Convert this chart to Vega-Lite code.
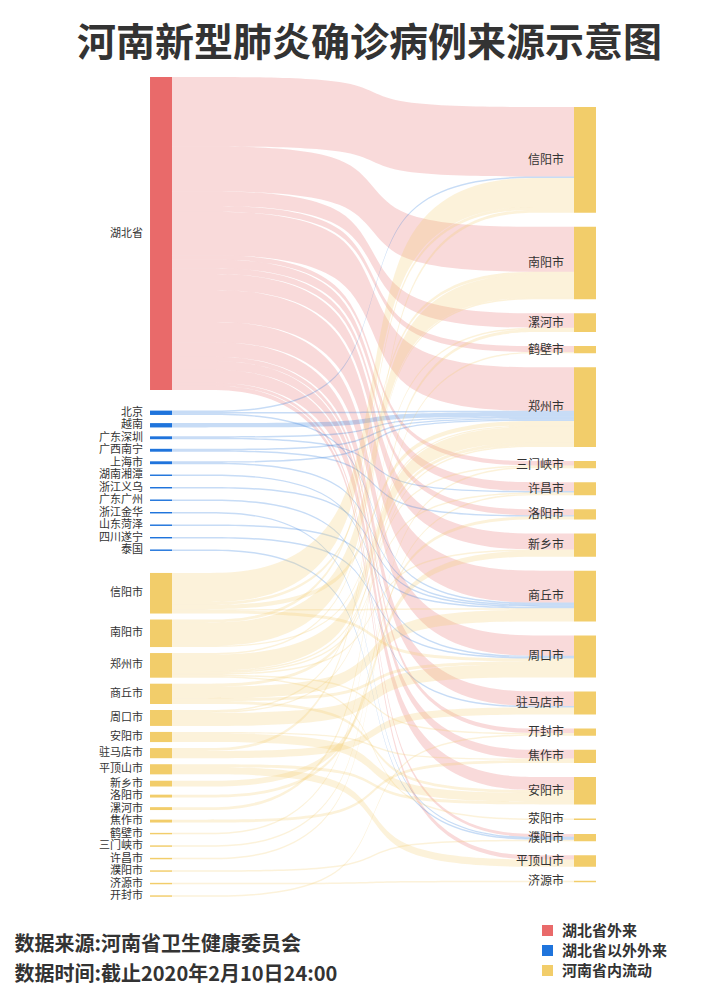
{
  "$schema": "https://vega.github.io/schema/vega-lite/v6.json",
  "width": 711,
  "height": 1000,
  "padding": 0,
  "background": "white",
  "config": {"view": {"stroke": null}, "font": "Noto Sans CJK SC"},
  "title": {
    "text": "河南新型肺炎确诊病例来源示意图",
    "font": "Noto Sans CJK SC",
    "fontSize": 39,
    "fontWeight": "bold",
    "color": "#333333",
    "anchor": "middle",
    "dx": 14,
    "offset": -64
  },
  "data": {"values": [
      {"s": "湖北省", "t": "信阳市", "c": "湖北省外来", "v": 48},
      {"s": "湖北省", "t": "南阳市", "c": "湖北省外来", "v": 31},
      {"s": "湖北省", "t": "漯河市", "c": "湖北省外来", "v": 10},
      {"s": "湖北省", "t": "鹤壁市", "c": "湖北省外来", "v": 4},
      {"s": "湖北省", "t": "郑州市", "c": "湖北省外来", "v": 30},
      {"s": "湖北省", "t": "三门峡市", "c": "湖北省外来", "v": 3},
      {"s": "湖北省", "t": "许昌市", "c": "湖北省外来", "v": 6},
      {"s": "湖北省", "t": "洛阳市", "c": "湖北省外来", "v": 4},
      {"s": "湖北省", "t": "新乡市", "c": "湖北省外来", "v": 11},
      {"s": "湖北省", "t": "商丘市", "c": "湖北省外来", "v": 22},
      {"s": "湖北省", "t": "周口市", "c": "湖北省外来", "v": 14},
      {"s": "湖北省", "t": "驻马店市", "c": "湖北省外来", "v": 10},
      {"s": "湖北省", "t": "开封市", "c": "湖北省外来", "v": 3},
      {"s": "湖北省", "t": "焦作市", "c": "湖北省外来", "v": 6},
      {"s": "湖北省", "t": "安阳市", "c": "湖北省外来", "v": 9},
      {"s": "湖北省", "t": "濮阳市", "c": "湖北省外来", "v": 2},
      {"s": "湖北省", "t": "平顶山市", "c": "湖北省外来", "v": 3},
      {"s": "北京", "t": "信阳市", "c": "湖北省以外外来", "v": 1},
      {"s": "北京", "t": "郑州市", "c": "湖北省以外外来", "v": 1},
      {"s": "北京", "t": "商丘市", "c": "湖北省以外外来", "v": 1},
      {"s": "越南", "t": "郑州市", "c": "湖北省以外外来", "v": 3},
      {"s": "广东深圳", "t": "郑州市", "c": "湖北省以外外来", "v": 1},
      {"s": "广东深圳", "t": "许昌市", "c": "湖北省以外外来", "v": 1},
      {"s": "广西南宁", "t": "郑州市", "c": "湖北省以外外来", "v": 1},
      {"s": "广西南宁", "t": "洛阳市", "c": "湖北省以外外来", "v": 1},
      {"s": "上海市", "t": "郑州市", "c": "湖北省以外外来", "v": 1},
      {"s": "上海市", "t": "商丘市", "c": "湖北省以外外来", "v": 1},
      {"s": "湖南湘潭", "t": "周口市", "c": "湖北省以外外来", "v": 1},
      {"s": "浙江义乌", "t": "商丘市", "c": "湖北省以外外来", "v": 1},
      {"s": "广东广州", "t": "驻马店市", "c": "湖北省以外外来", "v": 1},
      {"s": "浙江金华", "t": "濮阳市", "c": "湖北省以外外来", "v": 1},
      {"s": "山东菏泽", "t": "商丘市", "c": "湖北省以外外来", "v": 1},
      {"s": "四川遂宁", "t": "周口市", "c": "湖北省以外外来", "v": 1},
      {"s": "泰国", "t": "濮阳市", "c": "湖北省以外外来", "v": 1},
      {"s": "信阳市", "t": "信阳市", "c": "河南省内流动", "v": 20},
      {"s": "信阳市", "t": "南阳市", "c": "河南省内流动", "v": 2},
      {"s": "信阳市", "t": "郑州市", "c": "河南省内流动", "v": 3},
      {"s": "信阳市", "t": "商丘市", "c": "河南省内流动", "v": 1},
      {"s": "信阳市", "t": "周口市", "c": "河南省内流动", "v": 2},
      {"s": "南阳市", "t": "信阳市", "c": "河南省内流动", "v": 2},
      {"s": "南阳市", "t": "南阳市", "c": "河南省内流动", "v": 16},
      {"s": "南阳市", "t": "郑州市", "c": "河南省内流动", "v": 1},
      {"s": "郑州市", "t": "南阳市", "c": "河南省内流动", "v": 1},
      {"s": "郑州市", "t": "郑州市", "c": "河南省内流动", "v": 11},
      {"s": "郑州市", "t": "三门峡市", "c": "河南省内流动", "v": 1},
      {"s": "郑州市", "t": "许昌市", "c": "河南省内流动", "v": 1},
      {"s": "郑州市", "t": "新乡市", "c": "河南省内流动", "v": 1},
      {"s": "郑州市", "t": "开封市", "c": "河南省内流动", "v": 1},
      {"s": "郑州市", "t": "荥阳市", "c": "河南省内流动", "v": 1},
      {"s": "商丘市", "t": "郑州市", "c": "河南省内流动", "v": 2},
      {"s": "商丘市", "t": "商丘市", "c": "河南省内流动", "v": 8},
      {"s": "商丘市", "t": "周口市", "c": "河南省内流动", "v": 2},
      {"s": "商丘市", "t": "安阳市", "c": "河南省内流动", "v": 2},
      {"s": "周口市", "t": "漯河市", "c": "河南省内流动", "v": 1},
      {"s": "周口市", "t": "郑州市", "c": "河南省内流动", "v": 1},
      {"s": "周口市", "t": "周口市", "c": "河南省内流动", "v": 9},
      {"s": "安阳市", "t": "焦作市", "c": "河南省内流动", "v": 1},
      {"s": "安阳市", "t": "安阳市", "c": "河南省内流动", "v": 6},
      {"s": "驻马店市", "t": "信阳市", "c": "河南省内流动", "v": 2},
      {"s": "驻马店市", "t": "驻马店市", "c": "河南省内流动", "v": 5},
      {"s": "平顶山市", "t": "安阳市", "c": "河南省内流动", "v": 2},
      {"s": "平顶山市", "t": "平顶山市", "c": "河南省内流动", "v": 5},
      {"s": "新乡市", "t": "新乡市", "c": "河南省内流动", "v": 4},
      {"s": "洛阳市", "t": "洛阳市", "c": "河南省内流动", "v": 2},
      {"s": "漯河市", "t": "漯河市", "c": "河南省内流动", "v": 2},
      {"s": "焦作市", "t": "焦作市", "c": "河南省内流动", "v": 2},
      {"s": "鹤壁市", "t": "鹤壁市", "c": "河南省内流动", "v": 1},
      {"s": "三门峡市", "t": "三门峡市", "c": "河南省内流动", "v": 1},
      {"s": "许昌市", "t": "许昌市", "c": "河南省内流动", "v": 1},
      {"s": "濮阳市", "t": "濮阳市", "c": "河南省内流动", "v": 1},
      {"s": "济源市", "t": "济源市", "c": "河南省内流动", "v": 1},
      {"s": "开封市", "t": "开封市", "c": "河南省内流动", "v": 1}
  ]},
  "transform": [
    {"calculate": "indexof(['湖北省','北京','越南','广东深圳','广西南宁','上海市','湖南湘潭','浙江义乌','广东广州','浙江金华','山东菏泽','四川遂宁','泰国','信阳市','南阳市','郑州市','商丘市','周口市','安阳市','驻马店市','平顶山市','新乡市','洛阳市','漯河市','焦作市','鹤壁市','三门峡市','许昌市','濮阳市','济源市','开封市'], datum.s)", "as": "si"},
    {"calculate": "indexof(['信阳市','南阳市','漯河市','鹤壁市','郑州市','三门峡市','许昌市','洛阳市','新乡市','商丘市','周口市','驻马店市','开封市','焦作市','安阳市','荥阳市','濮阳市','平顶山市','济源市'], datum.t)", "as": "ti"},
    {"joinaggregate": [{"op": "sum", "field": "v", "as": "hs"}], "groupby": ["s"]},
    {"joinaggregate": [{"op": "min", "field": "si", "as": "cmin"}], "groupby": ["c"]},
    {"window": [{"op": "row_number", "as": "rs"}], "groupby": ["s"], "sort": [{"field": "ti"}]},
    {"window": [{"op": "row_number", "as": "rt"}], "groupby": ["t"], "sort": [{"field": "si"}]},
    {"window": [{"op": "sum", "field": "v", "as": "csi"}], "sort": [{"field": "si"}, {"field": "ti"}], "frame": [null, 0]},
    {"calculate": "(8.62 - datum.hs > 4.14) ? (8.62 - datum.hs) : 4.14", "as": "gs"},
    {"calculate": "datum.rs == 1 ? (datum.gs + ((datum.si == datum.cmin && datum.si > 0) ? 9.31 : 0)) : 0", "as": "xs"},
    {"window": [{"op": "sum", "field": "xs", "as": "cxs"}], "sort": [{"field": "si"}, {"field": "ti"}], "frame": [null, 0]},
    {"calculate": "51.06 + datum.csi - datum.v + datum.cxs - datum.gs / 2", "as": "sy"},
    {"window": [{"op": "sum", "field": "v", "as": "cti"}], "sort": [{"field": "ti"}, {"field": "si"}], "frame": [null, 0]},
    {"calculate": "datum.rt == 1 ? 9.66 : 0", "as": "xt"},
    {"window": [{"op": "sum", "field": "xt", "as": "cxt"}], "sort": [{"field": "ti"}, {"field": "si"}], "frame": [null, 0]},
    {"calculate": "69 + datum.cti - datum.v + datum.cxt - 4.83", "as": "ty"},
    {"calculate": "datum.sy + datum.v", "as": "sy2"},
    {"calculate": "datum.ty + datum.v", "as": "ty2"}
  ],
  "layer": [
    {
      "transform": [
        {"calculate": "datum.sy", "as": "p0"},
        {"calculate": "datum.sy", "as": "p1"},
        {"calculate": "datum.ty", "as": "p2"},
        {"calculate": "datum.ty", "as": "p3"},
        {"fold": ["p0", "p1", "p2", "p3"], "as": ["key", "py"]},
        {"calculate": "datum.key == 'p0' ? 0 : (datum.key == 'p1' ? 0.499 : (datum.key == 'p2' ? 0.501 : 1))", "as": "px"},
        {"calculate": "datum.py + datum.v", "as": "py2"},
        {"calculate": "datum.s + '-' + datum.t", "as": "id"}
      ],
      "mark": {"type": "area", "interpolate": "basis", "opacity": 0.25},
      "encoding": {
        "x": {
          "field": "px", "type": "quantitative",
          "scale": {"domain": [-0.4279, 1.3408], "nice": false, "zero": false},
          "axis": {
            "orient": "bottom",
            "title": ["数据来源:河南省卫生健康委员会", "数据时间:截止2020年2月10日24:00"],
            "labels": false, "ticks": false, "domain": false, "grid": false,
            "titleX": 14, "titleY": -66, "titleAlign": "left",
            "titleBaseline": "top", "titleFont": "Noto Sans CJK SC", "titleFontSize": 20,
            "titleFontWeight": "bold", "titleColor": "#333333", "titleLineHeight": 30
          }
        },
        "y": {"field": "py", "type": "quantitative", "stack": null, "scale": {"domain": [0, 690], "reverse": true, "nice": false, "zero": false}, "axis": null},
        "y2": {"field": "py2"},
        "detail": {"field": "id", "type": "nominal"},
        "color": {
          "field": "c", "type": "nominal",
          "scale": {"domain": ["湖北省外来", "湖北省以外外来", "河南省内流动"], "range": ["#e96a6a", "#1f74dc", "#f2cd6a"]},
          "legend": {
            "orient": "none", "legendX": 540, "legendY": 923, "title": null,
            "symbolType": "square", "symbolSize": 121, "symbolOpacity": 1, "symbolStrokeWidth": 0,
            "labelFont": "Noto Sans CJK SC", "labelFontSize": 15, "labelFontWeight": "bold",
            "labelColor": "#333333", "labelOffset": 7, "rowPadding": 4
          }
        }
      }
    },
    {
      "transform": [
        {"aggregate": [{"op": "min", "field": "sy", "as": "y0"}, {"op": "max", "field": "sy2", "as": "y1"}], "groupby": ["s", "c"]},
        {"calculate": "-0.0547", "as": "xa"},
        {"calculate": "0", "as": "xb"}
      ],
      "mark": {"type": "rect"},
      "encoding": {
        "x": {"field": "xa", "type": "quantitative"},
        "x2": {"field": "xb"},
        "y": {"field": "y0", "type": "quantitative", "axis": null},
        "y2": {"field": "y1"},
        "color": {"field": "c", "type": "nominal"}
      }
    },
    {
      "transform": [
        {"aggregate": [{"op": "min", "field": "ty", "as": "y0"}, {"op": "max", "field": "ty2", "as": "y1"}], "groupby": ["t"]},
        {"calculate": "1", "as": "xa"},
        {"calculate": "1.0547", "as": "xb"}
      ],
      "mark": {"type": "rect", "color": "#f2cd6a"},
      "encoding": {
        "x": {"field": "xa", "type": "quantitative"},
        "x2": {"field": "xb"},
        "y": {"field": "y0", "type": "quantitative", "axis": null},
        "y2": {"field": "y1"}
      }
    },
    {
      "transform": [
        {"aggregate": [{"op": "min", "field": "sy", "as": "y0"}, {"op": "max", "field": "sy2", "as": "y1"}], "groupby": ["s"]},
        {"calculate": "(datum.y0 + datum.y1) / 2", "as": "ym"},
        {"calculate": "-0.0547", "as": "xa"}
      ],
      "mark": {"type": "text", "align": "right", "baseline": "middle", "dx": -7, "fontSize": 11, "font": "Noto Sans CJK SC", "color": "#333333"},
      "encoding": {
        "x": {"field": "xa", "type": "quantitative"},
        "y": {"field": "ym", "type": "quantitative", "axis": null},
        "text": {"field": "s", "type": "nominal"}
      }
    },
    {
      "transform": [
        {"aggregate": [{"op": "min", "field": "ty", "as": "y0"}, {"op": "max", "field": "ty2", "as": "y1"}], "groupby": ["t"]},
        {"calculate": "(datum.y0 + datum.y1) / 2", "as": "ym"},
        {"calculate": "1", "as": "xa"}
      ],
      "mark": {"type": "text", "align": "right", "baseline": "middle", "dx": -10, "fontSize": 12, "font": "Noto Sans CJK SC", "color": "#333333"},
      "encoding": {
        "x": {"field": "xa", "type": "quantitative"},
        "y": {"field": "ym", "type": "quantitative", "axis": null},
        "text": {"field": "t", "type": "nominal"}
      }
    }
  ]
}
